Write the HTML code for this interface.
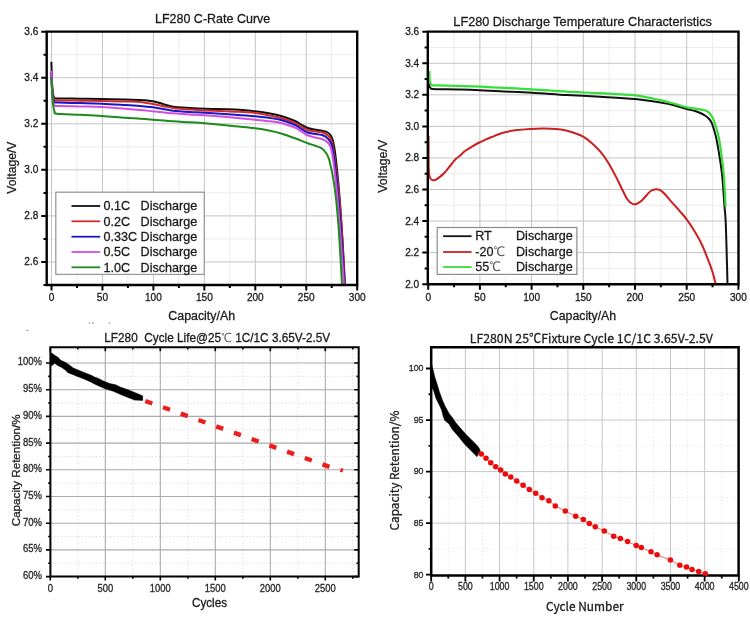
<!DOCTYPE html>
<html><head><meta charset="utf-8"><title>LF280 charts</title>
<style>html,body{margin:0;padding:0;background:#fff;}svg{display:block;}text{stroke:#1a1a1a;stroke-width:0.28px;}</style>
</head><body>
<svg width="750" height="621" viewBox="0 0 750 621" font-family="'Liberation Sans', Arial, sans-serif">
<rect width="750" height="621" fill="#fff"/>
<path d="M76.97 31.6V285M127.92 31.6V285M178.88 31.6V285M229.82 31.6V285M280.77 31.6V285M331.72 31.6V285M46.7 54.73H357.2M46.7 100.78H357.2M46.7 146.82H357.2M46.7 192.88H357.2M46.7 238.92H357.2" stroke="#ececec" stroke-width="1" fill="none"/>
<path d="M51.5 31.6V285M102.45 31.6V285M153.4 31.6V285M204.35 31.6V285M255.3 31.6V285M306.25 31.6V285M46.7 77.75H357.2M46.7 123.8H357.2M46.7 169.85H357.2M46.7 215.9H357.2M46.7 261.95H357.2" stroke="#c4c4c4" stroke-width="1" fill="none"/>
<path d="M51.4 61.7C51.48 64.75 51.63 74.62 51.9 80C52.17 85.38 52.57 91 53 94C53.43 97 53.67 97.27 54.5 98C55.33 98.73 53.75 98.28 58 98.4C62.25 98.52 72.67 98.6 80 98.7C87.33 98.8 94.5 98.85 102 99C109.5 99.15 118.67 99.43 125 99.6C131.33 99.77 135.33 99.72 140 100C144.67 100.28 149.17 100.63 153 101.3C156.83 101.97 159.67 103.1 163 104C166.33 104.9 168.5 106.03 173 106.7C177.5 107.37 184.67 107.67 190 108C195.33 108.33 197.5 108.47 205 108.7C212.5 108.93 226.67 108.97 235 109.4C243.33 109.83 249.17 110.62 255 111.3C260.83 111.98 265.5 112.67 270 113.5C274.5 114.33 277.83 115.05 282 116.3C286.17 117.55 291.83 119.63 295 121C298.17 122.37 299 123.38 301 124.5C303 125.62 304.83 126.87 307 127.7C309.17 128.53 311.5 129 314 129.5C316.5 130 319.92 130.32 322 130.7C324.08 131.08 325.17 131.17 326.5 131.8C327.83 132.43 328.92 132.97 330 134.5C331.08 136.03 332 136.75 333 141C334 145.25 334.87 150.17 336 160C337.13 169.83 338.72 186.67 339.8 200C340.88 213.33 341.63 225.83 342.5 240C343.37 254.17 344.58 277.5 345 285" stroke="#101010" stroke-width="2" fill="none" stroke-linejoin="round"/>
<path d="M51.4 72C51.48 74 51.63 80 51.9 84C52.17 88 52.57 93.33 53 96C53.43 98.67 53.67 99.27 54.5 100C55.33 100.73 53.75 100.28 58 100.4C62.25 100.52 72.67 100.6 80 100.7C87.33 100.8 94.5 100.87 102 101C109.5 101.13 118.67 101.33 125 101.5C131.33 101.67 135.33 101.58 140 102C144.67 102.42 149.17 103.3 153 104C156.83 104.7 159.67 105.53 163 106.2C166.33 106.87 168.5 107.43 173 108C177.5 108.57 184.67 109.2 190 109.6C195.33 110 197.5 110.05 205 110.4C212.5 110.75 226.67 111.27 235 111.7C243.33 112.13 249.17 112.37 255 113C260.83 113.63 265.5 114.62 270 115.5C274.5 116.38 277.83 117.05 282 118.3C286.17 119.55 291.83 121.63 295 123C298.17 124.37 299 125.38 301 126.5C303 127.62 304.83 128.9 307 129.7C309.17 130.5 311.5 130.87 314 131.3C316.5 131.73 319.62 131.57 322 132.3C324.38 133.03 326.63 134.08 328.3 135.7C329.97 137.32 330.88 137.95 332 142C333.12 146.05 333.75 150.33 335 160C336.25 169.67 338.28 186.67 339.5 200C340.72 213.33 341.42 225.83 342.3 240C343.18 254.17 344.38 277.5 344.8 285" stroke="#d42a2a" stroke-width="2" fill="none" stroke-linejoin="round"/>
<path d="M51.4 72.5C51.48 74.75 51.63 81.67 51.9 86C52.17 90.33 52.57 95.8 53 98.5C53.43 101.2 53.67 101.52 54.5 102.2C55.33 102.88 53.75 102.45 58 102.6C62.25 102.75 72.67 102.92 80 103.1C87.33 103.28 94.5 103.38 102 103.7C109.5 104.02 118.67 104.62 125 105C131.33 105.38 135.33 105.62 140 106C144.67 106.38 149.17 106.8 153 107.3C156.83 107.8 159.67 108.43 163 109C166.33 109.57 168.5 110.2 173 110.7C177.5 111.2 184.67 111.67 190 112C195.33 112.33 197.5 112.25 205 112.7C212.5 113.15 226.67 114.1 235 114.7C243.33 115.3 249.17 115.75 255 116.3C260.83 116.85 265.5 117.33 270 118C274.5 118.67 277.83 119.13 282 120.3C286.17 121.47 291.83 123.6 295 125C298.17 126.4 299 127.48 301 128.7C303 129.92 304.83 131.45 307 132.3C309.17 133.15 311.5 133.35 314 133.8C316.5 134.25 319.62 134.13 322 135C324.38 135.87 326.63 137.17 328.3 139C329.97 140.83 330.88 141.67 332 146C333.12 150.33 333.83 155.17 335 165C336.17 174.83 337.83 191.67 339 205C340.17 218.33 341.08 231.67 342 245C342.92 258.33 344.08 278.33 344.5 285" stroke="#1818c0" stroke-width="2" fill="none" stroke-linejoin="round"/>
<path d="M51.4 71C51.48 73.67 51.63 81.83 51.9 87C52.17 92.17 52.57 98.9 53 102C53.43 105.1 53.67 104.93 54.5 105.6C55.33 106.27 53.75 105.87 58 106C62.25 106.13 72.67 106.23 80 106.4C87.33 106.57 94.5 106.6 102 107C109.5 107.4 118.67 108.3 125 108.8C131.33 109.3 135.33 109.58 140 110C144.67 110.42 149.17 110.92 153 111.3C156.83 111.68 159.67 111.97 163 112.3C166.33 112.63 168.5 112.93 173 113.3C177.5 113.67 184.67 114.17 190 114.5C195.33 114.83 197.5 114.77 205 115.3C212.5 115.83 226.67 116.97 235 117.7C243.33 118.43 249.17 119.1 255 119.7C260.83 120.3 265.5 120.7 270 121.3C274.5 121.9 277.83 122.23 282 123.3C286.17 124.37 291.83 126.38 295 127.7C298.17 129.02 299 129.98 301 131.2C303 132.42 304.83 133.98 307 135C309.17 136.02 311.5 136.63 314 137.3C316.5 137.97 319.62 138.05 322 139C324.38 139.95 326.72 141.17 328.3 143C329.88 144.83 330.47 145.5 331.5 150C332.53 154.5 333.33 160 334.5 170C335.67 180 337.33 196.67 338.5 210C339.67 223.33 340.58 237.5 341.5 250C342.42 262.5 343.58 279.17 344 285" stroke="#d24ee0" stroke-width="2" fill="none" stroke-linejoin="round"/>
<path d="M51.4 77.7C51.5 79.75 51.73 85.62 52 90C52.27 94.38 52.58 100.42 53 104C53.42 107.58 53.83 109.88 54.5 111.5C55.17 113.12 52.75 113.15 57 113.7C61.25 114.25 72.5 114.42 80 114.8C87.5 115.18 94.5 115.5 102 116C109.5 116.5 118.67 117.35 125 117.8C131.33 118.25 135.33 118.38 140 118.7C144.67 119.02 147.5 119.27 153 119.7C158.5 120.13 166.83 120.87 173 121.3C179.17 121.73 184.67 121.97 190 122.3C195.33 122.63 197.5 122.63 205 123.3C212.5 123.97 226.67 125.47 235 126.3C243.33 127.13 249.17 127.57 255 128.3C260.83 129.03 265.5 129.8 270 130.7C274.5 131.6 277.83 132.43 282 133.7C286.17 134.97 290.83 136.75 295 138.3C299.17 139.85 303.67 141.77 307 143C310.33 144.23 312.55 144.82 315 145.7C317.45 146.58 320 147.25 321.7 148.3C323.4 149.35 323.95 150.08 325.2 152C326.45 153.92 327.65 154.07 329.2 159.8C330.75 165.53 332.95 175.33 334.5 186.4C336.05 197.47 337.25 209.83 338.5 226.2C339.75 242.57 341.42 274.87 342 284.6" stroke="#1e8a1e" stroke-width="2" fill="none" stroke-linejoin="round"/>
<rect x="55.8" y="192.2" width="148.5" height="82.2" fill="#fff" stroke="#9a9a9a" stroke-width="1.3"/>
<path d="M71.5 206H100.2" stroke="#101010" stroke-width="1.8"/>
<text transform="translate(103.4 210.4) scale(1 1.04)" font-size="12.6" text-anchor="start" fill="#1a1a1a" font-family="'Liberation Sans', Arial, sans-serif">0.1C</text>
<text transform="translate(140.6 210.4) scale(1 1.04)" font-size="12.6" text-anchor="start" fill="#1a1a1a" font-family="'Liberation Sans', Arial, sans-serif">Discharge</text>
<path d="M71.5 221.3H100.2" stroke="#d42a2a" stroke-width="1.8"/>
<text transform="translate(103.4 225.7) scale(1 1.04)" font-size="12.6" text-anchor="start" fill="#1a1a1a" font-family="'Liberation Sans', Arial, sans-serif">0.2C</text>
<text transform="translate(140.6 225.7) scale(1 1.04)" font-size="12.6" text-anchor="start" fill="#1a1a1a" font-family="'Liberation Sans', Arial, sans-serif">Discharge</text>
<path d="M71.5 236.7H100.2" stroke="#1818c0" stroke-width="1.8"/>
<text transform="translate(103.4 241.1) scale(1 1.04)" font-size="12.6" text-anchor="start" fill="#1a1a1a" font-family="'Liberation Sans', Arial, sans-serif">0.33C</text>
<text transform="translate(140.6 241.1) scale(1 1.04)" font-size="12.6" text-anchor="start" fill="#1a1a1a" font-family="'Liberation Sans', Arial, sans-serif">Discharge</text>
<path d="M71.5 252H100.2" stroke="#d24ee0" stroke-width="1.8"/>
<text transform="translate(103.4 256.4) scale(1 1.04)" font-size="12.6" text-anchor="start" fill="#1a1a1a" font-family="'Liberation Sans', Arial, sans-serif">0.5C</text>
<text transform="translate(140.6 256.4) scale(1 1.04)" font-size="12.6" text-anchor="start" fill="#1a1a1a" font-family="'Liberation Sans', Arial, sans-serif">Discharge</text>
<path d="M71.5 267.3H100.2" stroke="#1e8a1e" stroke-width="1.8"/>
<text transform="translate(103.4 271.7) scale(1 1.04)" font-size="12.6" text-anchor="start" fill="#1a1a1a" font-family="'Liberation Sans', Arial, sans-serif">1.0C</text>
<text transform="translate(140.6 271.7) scale(1 1.04)" font-size="12.6" text-anchor="start" fill="#1a1a1a" font-family="'Liberation Sans', Arial, sans-serif">Discharge</text>
<path d="M46.7 31.6H357.2V285H46.7Z" stroke="#000" stroke-width="2.4" fill="none"/>
<path d="M41.2 31.7H46.7M43.5 54.73H46.7M41.2 77.75H46.7M43.5 100.78H46.7M41.2 123.8H46.7M43.5 146.82H46.7M41.2 169.85H46.7M43.5 192.88H46.7M41.2 215.9H46.7M43.5 238.92H46.7M41.2 261.95H46.7M43.5 285H46.7M51.5 285V290.5M76.97 285V288M102.45 285V290.5M127.92 285V288M153.4 285V290.5M178.88 285V288M204.35 285V290.5M229.82 285V288M255.3 285V290.5M280.77 285V288M306.25 285V290.5M331.72 285V288M357.2 285V290.5" stroke="#000" stroke-width="2" fill="none"/>
<text transform="translate(38.4 34.8) scale(1 1.1)" font-size="10.1" text-anchor="end" fill="#1a1a1a" font-family="'Liberation Sans', Arial, sans-serif">3.6</text>
<text transform="translate(38.4 80.85) scale(1 1.1)" font-size="10.1" text-anchor="end" fill="#1a1a1a" font-family="'Liberation Sans', Arial, sans-serif">3.4</text>
<text transform="translate(38.4 126.9) scale(1 1.1)" font-size="10.1" text-anchor="end" fill="#1a1a1a" font-family="'Liberation Sans', Arial, sans-serif">3.2</text>
<text transform="translate(38.4 172.95) scale(1 1.1)" font-size="10.1" text-anchor="end" fill="#1a1a1a" font-family="'Liberation Sans', Arial, sans-serif">3.0</text>
<text transform="translate(38.4 219) scale(1 1.1)" font-size="10.1" text-anchor="end" fill="#1a1a1a" font-family="'Liberation Sans', Arial, sans-serif">2.8</text>
<text transform="translate(38.4 265.05) scale(1 1.1)" font-size="10.1" text-anchor="end" fill="#1a1a1a" font-family="'Liberation Sans', Arial, sans-serif">2.6</text>
<text transform="translate(51.5 301) scale(1 1.07)" font-size="10.1" text-anchor="middle" fill="#1a1a1a" font-family="'Liberation Sans', Arial, sans-serif">0</text>
<text transform="translate(102.45 301) scale(1 1.07)" font-size="10.1" text-anchor="middle" fill="#1a1a1a" font-family="'Liberation Sans', Arial, sans-serif">50</text>
<text transform="translate(153.4 301) scale(1 1.07)" font-size="10.1" text-anchor="middle" fill="#1a1a1a" font-family="'Liberation Sans', Arial, sans-serif">100</text>
<text transform="translate(204.35 301) scale(1 1.07)" font-size="10.1" text-anchor="middle" fill="#1a1a1a" font-family="'Liberation Sans', Arial, sans-serif">150</text>
<text transform="translate(255.3 301) scale(1 1.07)" font-size="10.1" text-anchor="middle" fill="#1a1a1a" font-family="'Liberation Sans', Arial, sans-serif">200</text>
<text transform="translate(306.25 301) scale(1 1.07)" font-size="10.1" text-anchor="middle" fill="#1a1a1a" font-family="'Liberation Sans', Arial, sans-serif">250</text>
<text transform="translate(357.2 301) scale(1 1.07)" font-size="10.1" text-anchor="middle" fill="#1a1a1a" font-family="'Liberation Sans', Arial, sans-serif">300</text>
<text transform="translate(212.6 22.6) scale(1 1.06)" font-size="12.5" text-anchor="middle" fill="#1a1a1a" font-family="'Liberation Sans', Arial, sans-serif">LF280 C-Rate Curve</text>
<text transform="translate(16.4 167.6) rotate(-90)" font-size="12.2" text-anchor="middle" fill="#1a1a1a" font-family="'Liberation Sans', Arial, sans-serif">Voltage/V</text>
<text transform="translate(201.7 320.3) scale(1 1.05)" font-size="12.4" text-anchor="middle" fill="#1a1a1a" font-family="'Liberation Sans', Arial, sans-serif">Capacity/Ah</text>
<path d="M454.05 31.6V284.3M505.75 31.6V284.3M557.45 31.6V284.3M609.15 31.6V284.3M660.85 31.6V284.3M712.55 31.6V284.3M427.8 47.48H738.5M427.8 79.04H738.5M427.8 110.6H738.5M427.8 142.16H738.5M427.8 173.72H738.5M427.8 205.28H738.5M427.8 236.84H738.5M427.8 268.4H738.5" stroke="#ececec" stroke-width="1" fill="none"/>
<path d="M479.9 31.6V284.3M531.6 31.6V284.3M583.3 31.6V284.3M635 31.6V284.3M686.7 31.6V284.3M427.8 63.26H738.5M427.8 94.82H738.5M427.8 126.38H738.5M427.8 157.94H738.5M427.8 189.5H738.5M427.8 221.06H738.5M427.8 252.62H738.5" stroke="#c4c4c4" stroke-width="1" fill="none"/>
<path d="M428.6 136C428.6 138.33 428.58 144.67 428.6 150C428.62 155.33 428.58 163.75 428.7 168C428.82 172.25 428.95 173.67 429.3 175.5C429.65 177.33 430.18 178.22 430.8 179C431.42 179.78 432.22 180.07 433 180.2C433.78 180.33 434.5 180.23 435.5 179.8C436.5 179.37 437.58 178.68 439 177.6C440.42 176.52 442.17 175.23 444 173.3C445.83 171.37 448.08 168.33 450 166C451.92 163.67 453.75 161.1 455.5 159.3C457.25 157.5 458.92 156.58 460.5 155.2C462.08 153.82 463.08 152.43 465 151C466.92 149.57 469.78 147.93 472 146.6C474.22 145.27 476.13 144.13 478.3 143C480.47 141.87 482.77 140.8 485 139.8C487.23 138.8 489.53 137.88 491.7 137C493.87 136.12 495.78 135.28 498 134.5C500.22 133.72 502.17 133 505 132.3C507.83 131.6 510.83 130.87 515 130.3C519.17 129.73 525.17 129.2 530 128.9C534.83 128.6 539.67 128.48 544 128.5C548.33 128.52 552.5 128.7 556 129C559.5 129.3 561.92 129.63 565 130.3C568.08 130.97 571.47 131.93 574.5 133C577.53 134.07 580.3 135 583.2 136.7C586.1 138.4 589 140.67 591.9 143.2C594.8 145.73 597.95 148.77 600.6 151.9C603.25 155.03 605.38 158.13 607.8 162C610.22 165.87 612.92 170.98 615.1 175.1C617.28 179.22 618.97 182.83 620.9 186.7C622.83 190.57 625.13 195.65 626.7 198.3C628.27 200.95 629.1 201.6 630.3 202.6C631.5 203.6 632.75 204.13 633.9 204.3C635.05 204.47 635.83 204.28 637.2 203.6C638.57 202.92 640.1 202.07 642.1 200.2C644.1 198.33 647.42 194.1 649.2 192.4C650.98 190.7 651.62 190.53 652.8 190C653.98 189.47 655.02 189.15 656.3 189.2C657.58 189.25 659.05 189.47 660.5 190.3C661.95 191.13 663.35 192.48 665 194.2C666.65 195.92 668.02 197.87 670.4 200.6C672.78 203.33 676.53 207.4 679.3 210.6C682.07 213.8 684.35 216.2 687 219.8C689.65 223.4 692.65 227.92 695.2 232.2C697.75 236.48 699.93 240.33 702.3 245.5C704.67 250.67 707.62 258.53 709.4 263.2C711.18 267.87 711.97 270.07 713 273.5C714.03 276.93 715.17 282.08 715.6 283.8" stroke="#cc2020" stroke-width="2" fill="none" stroke-linejoin="round"/>
<path d="M429 83C429.05 83.5 429.05 85.17 429.3 86C429.55 86.83 429.97 87.5 430.5 88C431.03 88.5 430.92 88.8 432.5 89C434.08 89.2 435.42 89.12 440 89.2C444.58 89.28 453.33 89.33 460 89.5C466.67 89.67 473.33 89.9 480 90.2C486.67 90.5 491.33 90.88 500 91.3C508.67 91.72 520.88 92.08 532 92.7C543.12 93.32 555.37 94.33 566.7 95C578.03 95.67 588.62 96.03 600 96.7C611.38 97.37 624.93 98.02 635 99C645.07 99.98 653.73 101.52 660.4 102.6C667.07 103.68 670.57 104.42 675 105.5C679.43 106.58 683.67 108.18 687 109.1C690.33 110.02 692.6 110.27 695 111C697.4 111.73 699.73 112.75 701.4 113.5C703.07 114.25 703.78 114.67 705 115.5C706.22 116.33 707.62 117.33 708.7 118.5C709.78 119.67 710.7 120.92 711.5 122.5C712.3 124.08 712.75 125.58 713.5 128C714.25 130.42 715.18 133.38 716 137C716.82 140.62 717.4 143.55 718.4 149.7C719.4 155.85 721 164.63 722 173.9C723 183.17 723.8 197.62 724.4 205.3C725 212.98 725.23 212.55 725.6 220C725.97 227.45 726.28 239.28 726.6 250C726.92 260.72 727.35 278.58 727.5 284.3" stroke="#111" stroke-width="2" fill="none" stroke-linejoin="round"/>
<path d="M429.4 71C429.42 72 429.4 75.08 429.5 77C429.6 78.92 429.67 81.17 430 82.5C430.33 83.83 430.83 84.53 431.5 85C432.17 85.47 431.47 85.2 434 85.3C436.53 85.4 439.03 85.37 446.7 85.6C454.37 85.83 471.12 86.35 480 86.7C488.88 87.05 491.33 87.27 500 87.7C508.67 88.13 520.88 88.63 532 89.3C543.12 89.97 555.37 91.05 566.7 91.7C578.03 92.35 588.62 92.58 600 93.2C611.38 93.82 624.93 94.23 635 95.4C645.07 96.57 653.73 98.77 660.4 100.2C667.07 101.63 670.57 102.8 675 104C679.43 105.2 683.33 106.6 687 107.4C690.67 108.2 694.18 108.37 697 108.8C699.82 109.23 702.23 109.6 703.9 110C705.57 110.4 706 110.62 707 111.2C708 111.78 708.9 112.28 709.9 113.5C710.9 114.72 711.98 116.25 713 118.5C714.02 120.75 715.08 124.08 716 127C716.92 129.92 717.7 132.22 718.5 136C719.3 139.78 719.93 143.38 720.8 149.7C721.67 156.02 722.9 164.43 723.7 173.9C724.5 183.37 725.28 201.07 725.6 206.5" stroke="#36df36" stroke-width="2.2" fill="none" stroke-linejoin="round"/>
<rect x="437.2" y="227.5" width="139.7" height="46.9" fill="#fff" stroke="#8c8c8c" stroke-width="1.2"/>
<path d="M443.1 236.2H471.6" stroke="#111" stroke-width="1.8"/>
<text transform="translate(475.2 240.2) scale(1 1.04)" font-size="12.6" text-anchor="start" fill="#1a1a1a" font-family="'Liberation Sans', 'WenQuanYi Zen Hei', 'Noto Sans CJK SC', sans-serif">RT</text>
<text transform="translate(516 240.2) scale(1 1.04)" font-size="12.6" text-anchor="start" fill="#1a1a1a" font-family="'Liberation Sans', Arial, sans-serif">Discharge</text>
<path d="M443.1 252H471.6" stroke="#cc2020" stroke-width="1.8"/>
<text transform="translate(475.2 256) scale(1 1.04)" font-size="12.6" text-anchor="start" fill="#1a1a1a" font-family="'Liberation Sans', 'WenQuanYi Zen Hei', 'Noto Sans CJK SC', sans-serif">-20<tspan fill="#555" stroke="none">℃</tspan></text>
<text transform="translate(516 256) scale(1 1.04)" font-size="12.6" text-anchor="start" fill="#1a1a1a" font-family="'Liberation Sans', Arial, sans-serif">Discharge</text>
<path d="M443.1 267H471.6" stroke="#36df36" stroke-width="1.8"/>
<text transform="translate(475.2 271) scale(1 1.04)" font-size="12.6" text-anchor="start" fill="#1a1a1a" font-family="'Liberation Sans', 'WenQuanYi Zen Hei', 'Noto Sans CJK SC', sans-serif">55<tspan fill="#555" stroke="none">℃</tspan></text>
<text transform="translate(516 271) scale(1 1.04)" font-size="12.6" text-anchor="start" fill="#1a1a1a" font-family="'Liberation Sans', Arial, sans-serif">Discharge</text>
<path d="M427.8 31.6H738.5V284.3H427.8Z" stroke="#000" stroke-width="2.4" fill="none"/>
<path d="M422.3 31.7H427.8M424.6 47.48H427.8M422.3 63.26H427.8M424.6 79.04H427.8M422.3 94.82H427.8M424.6 110.6H427.8M422.3 126.38H427.8M424.6 142.16H427.8M422.3 157.94H427.8M424.6 173.72H427.8M422.3 189.5H427.8M424.6 205.28H427.8M422.3 221.06H427.8M424.6 236.84H427.8M422.3 252.62H427.8M424.6 268.4H427.8M422.3 284.18H427.8M428.2 284.3V289.8M454.05 284.3V287.3M479.9 284.3V289.8M505.75 284.3V287.3M531.6 284.3V289.8M557.45 284.3V287.3M583.3 284.3V289.8M609.15 284.3V287.3M635 284.3V289.8M660.85 284.3V287.3M686.7 284.3V289.8M712.55 284.3V287.3M738.4 284.3V289.8" stroke="#000" stroke-width="2" fill="none"/>
<text transform="translate(419.2 35.2) scale(1 1.1)" font-size="10.1" text-anchor="end" fill="#1a1a1a" font-family="'Liberation Sans', Arial, sans-serif">3.6</text>
<text transform="translate(419.2 66.76) scale(1 1.1)" font-size="10.1" text-anchor="end" fill="#1a1a1a" font-family="'Liberation Sans', Arial, sans-serif">3.4</text>
<text transform="translate(419.2 98.32) scale(1 1.1)" font-size="10.1" text-anchor="end" fill="#1a1a1a" font-family="'Liberation Sans', Arial, sans-serif">3.2</text>
<text transform="translate(419.2 129.88) scale(1 1.1)" font-size="10.1" text-anchor="end" fill="#1a1a1a" font-family="'Liberation Sans', Arial, sans-serif">3.0</text>
<text transform="translate(419.2 161.44) scale(1 1.1)" font-size="10.1" text-anchor="end" fill="#1a1a1a" font-family="'Liberation Sans', Arial, sans-serif">2.8</text>
<text transform="translate(419.2 193) scale(1 1.1)" font-size="10.1" text-anchor="end" fill="#1a1a1a" font-family="'Liberation Sans', Arial, sans-serif">2.6</text>
<text transform="translate(419.2 224.56) scale(1 1.1)" font-size="10.1" text-anchor="end" fill="#1a1a1a" font-family="'Liberation Sans', Arial, sans-serif">2.4</text>
<text transform="translate(419.2 256.12) scale(1 1.1)" font-size="10.1" text-anchor="end" fill="#1a1a1a" font-family="'Liberation Sans', Arial, sans-serif">2.2</text>
<text transform="translate(419.2 287.68) scale(1 1.1)" font-size="10.1" text-anchor="end" fill="#1a1a1a" font-family="'Liberation Sans', Arial, sans-serif">2.0</text>
<text transform="translate(428.2 301) scale(1 1.07)" font-size="10.1" text-anchor="middle" fill="#1a1a1a" font-family="'Liberation Sans', Arial, sans-serif">0</text>
<text transform="translate(479.9 301) scale(1 1.07)" font-size="10.1" text-anchor="middle" fill="#1a1a1a" font-family="'Liberation Sans', Arial, sans-serif">50</text>
<text transform="translate(531.6 301) scale(1 1.07)" font-size="10.1" text-anchor="middle" fill="#1a1a1a" font-family="'Liberation Sans', Arial, sans-serif">100</text>
<text transform="translate(583.3 301) scale(1 1.07)" font-size="10.1" text-anchor="middle" fill="#1a1a1a" font-family="'Liberation Sans', Arial, sans-serif">150</text>
<text transform="translate(635 301) scale(1 1.07)" font-size="10.1" text-anchor="middle" fill="#1a1a1a" font-family="'Liberation Sans', Arial, sans-serif">200</text>
<text transform="translate(686.7 301) scale(1 1.07)" font-size="10.1" text-anchor="middle" fill="#1a1a1a" font-family="'Liberation Sans', Arial, sans-serif">250</text>
<text transform="translate(738.4 301) scale(1 1.07)" font-size="10.1" text-anchor="middle" fill="#1a1a1a" font-family="'Liberation Sans', Arial, sans-serif">300</text>
<text transform="translate(582.6 25.7) scale(1 1.03)" font-size="12.7" text-anchor="middle" fill="#1a1a1a" font-family="'Liberation Sans', Arial, sans-serif">LF280 Discharge Temperature Characteristics</text>
<text transform="translate(386.8 166.3) rotate(-90)" font-size="12.4" text-anchor="middle" fill="#1a1a1a" font-family="'Liberation Sans', Arial, sans-serif">Voltage/V</text>
<text transform="translate(583 320.3) scale(1 1.05)" font-size="12.3" text-anchor="middle" fill="#1a1a1a" font-family="'Liberation Sans', Arial, sans-serif">Capacity/Ah</text>
<path d="M77.8 347.2V576.5M132.8 347.2V576.5M187.8 347.2V576.5M242.8 347.2V576.5M297.8 347.2V576.5M352.8 347.2V576.5M50.4 349.65H358.7M50.4 376.35H358.7M50.4 403.05H358.7M50.4 429.75H358.7M50.4 456.45H358.7M50.4 483.15H358.7M50.4 509.85H358.7M50.4 536.55H358.7M50.4 563.25H358.7" stroke="#d8d8d8" stroke-width="1" stroke-dasharray="1.2 2.3" fill="none"/>
<path d="M105.3 347.2V576.5M160.3 347.2V576.5M215.3 347.2V576.5M270.3 347.2V576.5M325.3 347.2V576.5M50.4 363H358.7M50.4 389.7H358.7M50.4 416.4H358.7M50.4 443.1H358.7M50.4 469.8H358.7M50.4 496.5H358.7M50.4 523.2H358.7M50.4 549.9H358.7" stroke="#ababab" stroke-width="1.1" fill="none"/>
<path d="M50.5 352.8L52.5 353.6L54.7 355.3L58 357.3L60.7 360.3L65.3 362.3L68 364L70.7 366L73.3 368L78 370L84.7 372.7L91.3 375.3L95 377.3L98.7 378.4L102.3 380.6L109.7 383.6L115.5 384.7L120.7 387.2L128 389.8L135.3 392.7L140.5 394.9L142.7 395.8L142.7 400.4L134.6 400.1L128 397.5L120.7 394.6L113.3 391.3L106 389.1L100.9 386.9L95 384.3L91.3 382.3L84.7 379.3L78 376.7L73.3 374.7L68 372.7L65.3 370L61.3 367.3L57.3 365.3L54.7 363.3L52.5 365.3L50.5 365.5Z" fill="#000" stroke="#000" stroke-width="0.5" stroke-linejoin="round"/>
<rect x="-3.7" y="-2.2" width="7.4" height="4.4" fill="#ee1c1c" transform="translate(148.8 402.2) rotate(19.69)"/>
<rect x="-3.7" y="-2.2" width="7.4" height="4.4" fill="#ee1c1c" transform="translate(166.52 408.54) rotate(19.69)"/>
<rect x="-3.7" y="-2.2" width="7.4" height="4.4" fill="#ee1c1c" transform="translate(184.24 414.88) rotate(19.69)"/>
<rect x="-3.7" y="-2.2" width="7.4" height="4.4" fill="#ee1c1c" transform="translate(201.96 421.22) rotate(19.69)"/>
<rect x="-3.7" y="-2.2" width="7.4" height="4.4" fill="#ee1c1c" transform="translate(219.68 427.56) rotate(19.69)"/>
<rect x="-3.7" y="-2.2" width="7.4" height="4.4" fill="#ee1c1c" transform="translate(237.4 433.9) rotate(19.69)"/>
<rect x="-3.7" y="-2.2" width="7.4" height="4.4" fill="#ee1c1c" transform="translate(255.12 440.24) rotate(19.69)"/>
<rect x="-3.7" y="-2.2" width="7.4" height="4.4" fill="#ee1c1c" transform="translate(272.84 446.58) rotate(19.69)"/>
<rect x="-3.7" y="-2.2" width="7.4" height="4.4" fill="#ee1c1c" transform="translate(290.56 452.92) rotate(19.69)"/>
<rect x="-3.7" y="-2.2" width="7.4" height="4.4" fill="#ee1c1c" transform="translate(308.28 459.26) rotate(19.69)"/>
<rect x="-3.7" y="-2.2" width="7.4" height="4.4" fill="#ee1c1c" transform="translate(326 465.6) rotate(19.69)"/>
<rect x="-1.3" y="-2.0" width="2.6" height="4.0" fill="#ee1c1c" transform="translate(341.7 470.2) rotate(19.69)"/>
<path d="M50.4 347.2H358.7V576.5H50.4Z" stroke="#000" stroke-width="2" fill="none"/>
<path d="M46 363H50.4M358.7 363H354.3M48.2 376.35H50.4M358.7 376.35H356.5M46 389.7H50.4M358.7 389.7H354.3M48.2 403.05H50.4M358.7 403.05H356.5M46 416.4H50.4M358.7 416.4H354.3M48.2 429.75H50.4M358.7 429.75H356.5M46 443.1H50.4M358.7 443.1H354.3M48.2 456.45H50.4M358.7 456.45H356.5M46 469.8H50.4M358.7 469.8H354.3M48.2 483.15H50.4M358.7 483.15H356.5M46 496.5H50.4M358.7 496.5H354.3M48.2 509.85H50.4M358.7 509.85H356.5M46 523.2H50.4M358.7 523.2H354.3M48.2 536.55H50.4M358.7 536.55H356.5M46 549.9H50.4M358.7 549.9H354.3M48.2 563.25H50.4M358.7 563.25H356.5M46 576.6H50.4M358.7 576.6H354.3M50.3 576.5V580.5M50.3 347.2V351.2M77.8 576.5V578.7M77.8 347.2V349.4M105.3 576.5V580.5M105.3 347.2V351.2M132.8 576.5V578.7M132.8 347.2V349.4M160.3 576.5V580.5M160.3 347.2V351.2M187.8 576.5V578.7M187.8 347.2V349.4M215.3 576.5V580.5M215.3 347.2V351.2M242.8 576.5V578.7M242.8 347.2V349.4M270.3 576.5V580.5M270.3 347.2V351.2M297.8 576.5V578.7M297.8 347.2V349.4M325.3 576.5V580.5M325.3 347.2V351.2M352.8 576.5V578.7M352.8 347.2V349.4" stroke="#000" stroke-width="1.6" fill="none"/>
<text transform="translate(42 365.4) scale(1 1.1)" font-size="9.5" text-anchor="end" fill="#333" font-family="'Liberation Sans', Arial, sans-serif">100%</text>
<text transform="translate(42 392.1) scale(1 1.1)" font-size="9.5" text-anchor="end" fill="#333" font-family="'Liberation Sans', Arial, sans-serif">95%</text>
<text transform="translate(42 418.8) scale(1 1.1)" font-size="9.5" text-anchor="end" fill="#333" font-family="'Liberation Sans', Arial, sans-serif">90%</text>
<text transform="translate(42 445.5) scale(1 1.1)" font-size="9.5" text-anchor="end" fill="#333" font-family="'Liberation Sans', Arial, sans-serif">85%</text>
<text transform="translate(42 472.2) scale(1 1.1)" font-size="9.5" text-anchor="end" fill="#333" font-family="'Liberation Sans', Arial, sans-serif">80%</text>
<text transform="translate(42 498.9) scale(1 1.1)" font-size="9.5" text-anchor="end" fill="#333" font-family="'Liberation Sans', Arial, sans-serif">75%</text>
<text transform="translate(42 525.6) scale(1 1.1)" font-size="9.5" text-anchor="end" fill="#333" font-family="'Liberation Sans', Arial, sans-serif">70%</text>
<text transform="translate(42 552.3) scale(1 1.1)" font-size="9.5" text-anchor="end" fill="#333" font-family="'Liberation Sans', Arial, sans-serif">65%</text>
<text transform="translate(42 579) scale(1 1.1)" font-size="9.5" text-anchor="end" fill="#333" font-family="'Liberation Sans', Arial, sans-serif">60%</text>
<text transform="translate(50.3 592) scale(1 1.13)" font-size="9.4" text-anchor="middle" fill="#333" font-family="'Liberation Sans', Arial, sans-serif">0</text>
<text transform="translate(105.3 592) scale(1 1.13)" font-size="9.4" text-anchor="middle" fill="#333" font-family="'Liberation Sans', Arial, sans-serif">500</text>
<text transform="translate(160.3 592) scale(1 1.13)" font-size="9.4" text-anchor="middle" fill="#333" font-family="'Liberation Sans', Arial, sans-serif">1000</text>
<text transform="translate(215.3 592) scale(1 1.13)" font-size="9.4" text-anchor="middle" fill="#333" font-family="'Liberation Sans', Arial, sans-serif">1500</text>
<text transform="translate(270.3 592) scale(1 1.13)" font-size="9.4" text-anchor="middle" fill="#333" font-family="'Liberation Sans', Arial, sans-serif">2000</text>
<text transform="translate(325.3 592) scale(1 1.13)" font-size="9.4" text-anchor="middle" fill="#333" font-family="'Liberation Sans', Arial, sans-serif">2500</text>
<text transform="translate(104.3 341.8) scale(1 1.07)" font-size="11.8" text-anchor="start" fill="#1a1a1a" font-family="'Liberation Sans', 'WenQuanYi Zen Hei', 'Noto Sans CJK SC', sans-serif">LF280&#160; Cycle Life@25<tspan fill="#666" stroke="none">℃</tspan> 1C/1C 3.65V-2.5V</text>
<text transform="translate(19.6 470.3) rotate(-90)" font-size="11.65" text-anchor="middle" fill="#1a1a1a" font-family="'Liberation Sans', Arial, sans-serif">Capacity Retention/%</text>
<text transform="translate(209.5 607) scale(1 1.04)" font-size="11.7" text-anchor="middle" fill="#1a1a1a" font-family="'Liberation Sans', Arial, sans-serif">Cycles</text>
<path d="M448.29 347.3V575.4M482.47 347.3V575.4M516.65 347.3V575.4M550.83 347.3V575.4M585.01 347.3V575.4M619.19 347.3V575.4M653.37 347.3V575.4M687.55 347.3V575.4M721.73 347.3V575.4M431.2 394.27H738.6M431.2 445.82H738.6M431.2 497.38H738.6M431.2 548.92H738.6" stroke="#e3e3e3" stroke-width="1" stroke-dasharray="1.2 2.5" fill="none"/>
<path d="M465.38 347.3V575.4M499.56 347.3V575.4M533.74 347.3V575.4M567.92 347.3V575.4M602.1 347.3V575.4M636.28 347.3V575.4M670.46 347.3V575.4M704.64 347.3V575.4M431.2 368.5H738.6M431.2 420.05H738.6M431.2 471.6H738.6M431.2 523.15H738.6" stroke="#c6c6c6" stroke-width="1" fill="none"/>
<path d="M481.3 454L486 458.3L490.7 462.7L495.7 466.7L500.7 470L505.3 474L510.7 477.1L516.7 481.1L523.1 485.3L529.3 489.6L535.7 493.3L542 497.7L548.9 500.7L555.3 506L565.3 511.1L575.7 516.3L583.3 519.6L589.3 523.6L595.3 526.7L604.3 531.1L613.7 536.3L620.4 538.4L627.6 541.6L636.2 545.6L641.3 547.6L651 551.7L657.1 554.8L670.4 560.1L679.8 565.2L686.5 567.1L692 569.5L698.7 571.6L705.3 573.7" stroke="#f04040" stroke-width="0.8" fill="none"/>
<path d="M431.4 363.2L433.1 370.1L434.8 376.9L437 383.7L439.3 391.5L442.6 400.6L445.5 407L447.2 410L448.9 413.2L452.1 417.2L455.3 422.1L460.1 427.7L465.8 434.2L472.2 440.6L477.8 446.2L480.3 450.3L477 456.7L470.6 450.3L464.2 443.8L458.5 436.6L452.1 429.3L448.9 423.7L444.8 420.5L443.2 416.4L441.6 410L439.3 405.1L435.9 398.3L433.6 390.4L431.4 387L430.8 375Z" fill="#000" stroke="#000" stroke-width="0.5" stroke-linejoin="round"/>
<path d="M431.2 347.3H738.6V575.4H431.2Z" stroke="#000" stroke-width="2.5" fill="none"/>
<g fill="#ee0a0a"><circle cx="481.3" cy="454" r="2.75"/><circle cx="486" cy="458.3" r="2.75"/><circle cx="490.7" cy="462.7" r="2.75"/><circle cx="495.7" cy="466.7" r="2.75"/><circle cx="500.7" cy="470" r="2.75"/><circle cx="505.3" cy="474" r="2.75"/><circle cx="510.7" cy="477.1" r="2.75"/><circle cx="516.7" cy="481.1" r="2.75"/><circle cx="523.1" cy="485.3" r="2.75"/><circle cx="529.3" cy="489.6" r="2.75"/><circle cx="535.7" cy="493.3" r="2.75"/><circle cx="542" cy="497.7" r="2.75"/><circle cx="548.9" cy="500.7" r="2.75"/><circle cx="555.3" cy="506" r="2.75"/><circle cx="565.3" cy="511.1" r="2.75"/><circle cx="575.7" cy="516.3" r="2.75"/><circle cx="583.3" cy="519.6" r="2.75"/><circle cx="589.3" cy="523.6" r="2.75"/><circle cx="595.3" cy="526.7" r="2.75"/><circle cx="604.3" cy="531.1" r="2.75"/><circle cx="613.7" cy="536.3" r="2.75"/><circle cx="620.4" cy="538.4" r="2.75"/><circle cx="627.6" cy="541.6" r="2.75"/><circle cx="636.2" cy="545.6" r="2.75"/><circle cx="641.3" cy="547.6" r="2.75"/><circle cx="651" cy="551.7" r="2.75"/><circle cx="657.1" cy="554.8" r="2.75"/><circle cx="670.4" cy="560.1" r="2.75"/><circle cx="679.8" cy="565.2" r="2.75"/><circle cx="686.5" cy="567.1" r="2.75"/><circle cx="692" cy="569.5" r="2.75"/><circle cx="698.7" cy="571.6" r="2.75"/><circle cx="705.3" cy="573.7" r="2.75"/></g>
<path d="M426 368.5H431.2M428.6 394.27H431.2M426 420.05H431.2M428.6 445.82H431.2M426 471.6H431.2M428.6 497.38H431.2M426 523.15H431.2M428.6 548.92H431.2M426 574.7H431.2M431.2 575.4V581.4M448.29 575.4V578.4M465.38 575.4V581.4M482.47 575.4V578.4M499.56 575.4V581.4M516.65 575.4V578.4M533.74 575.4V581.4M550.83 575.4V578.4M567.92 575.4V581.4M585.01 575.4V578.4M602.1 575.4V581.4M619.19 575.4V578.4M636.28 575.4V581.4M653.37 575.4V578.4M670.46 575.4V581.4M687.55 575.4V578.4M704.64 575.4V581.4M721.73 575.4V578.4M738.82 575.4V581.4" stroke="#000" stroke-width="1.8" fill="none"/>
<text transform="translate(423.5 371.3) scale(1 1.09)" font-size="8.8" text-anchor="end" fill="#333" font-family="'Liberation Sans', Arial, sans-serif">100</text>
<text transform="translate(423.5 422.85) scale(1 1.09)" font-size="8.8" text-anchor="end" fill="#333" font-family="'Liberation Sans', Arial, sans-serif">95</text>
<text transform="translate(423.5 474.4) scale(1 1.09)" font-size="8.8" text-anchor="end" fill="#333" font-family="'Liberation Sans', Arial, sans-serif">90</text>
<text transform="translate(423.5 525.95) scale(1 1.09)" font-size="8.8" text-anchor="end" fill="#333" font-family="'Liberation Sans', Arial, sans-serif">85</text>
<text transform="translate(423.5 577.5) scale(1 1.09)" font-size="8.8" text-anchor="end" fill="#333" font-family="'Liberation Sans', Arial, sans-serif">80</text>
<text transform="translate(431.2 590) scale(1 1.14)" font-size="8.85" text-anchor="middle" fill="#333" font-family="'Liberation Sans', Arial, sans-serif">0</text>
<text transform="translate(465.38 590) scale(1 1.14)" font-size="8.85" text-anchor="middle" fill="#333" font-family="'Liberation Sans', Arial, sans-serif">500</text>
<text transform="translate(499.56 590) scale(1 1.14)" font-size="8.85" text-anchor="middle" fill="#333" font-family="'Liberation Sans', Arial, sans-serif">1000</text>
<text transform="translate(533.74 590) scale(1 1.14)" font-size="8.85" text-anchor="middle" fill="#333" font-family="'Liberation Sans', Arial, sans-serif">1500</text>
<text transform="translate(567.92 590) scale(1 1.14)" font-size="8.85" text-anchor="middle" fill="#333" font-family="'Liberation Sans', Arial, sans-serif">2000</text>
<text transform="translate(602.1 590) scale(1 1.14)" font-size="8.85" text-anchor="middle" fill="#333" font-family="'Liberation Sans', Arial, sans-serif">2500</text>
<text transform="translate(636.28 590) scale(1 1.14)" font-size="8.85" text-anchor="middle" fill="#333" font-family="'Liberation Sans', Arial, sans-serif">3000</text>
<text transform="translate(670.46 590) scale(1 1.14)" font-size="8.85" text-anchor="middle" fill="#333" font-family="'Liberation Sans', Arial, sans-serif">3500</text>
<text transform="translate(704.64 590) scale(1 1.14)" font-size="8.85" text-anchor="middle" fill="#333" font-family="'Liberation Sans', Arial, sans-serif">4000</text>
<text transform="translate(738.82 590) scale(1 1.14)" font-size="8.85" text-anchor="middle" fill="#333" font-family="'Liberation Sans', Arial, sans-serif">4500</text>
<text transform="translate(591.3 342.8)" font-size="12.3" text-anchor="middle" fill="#222" font-family="'Noto Sans CJK SC', 'Liberation Sans', sans-serif">LF280N 25℃Fixture Cycle 1C/1C 3.65V-2.5V</text>
<text transform="translate(399 470.6) rotate(-90)" font-size="11.8" text-anchor="middle" fill="#222" font-family="'Noto Sans CJK SC', 'Liberation Sans', sans-serif">Capacity Retention/%</text>
<text transform="translate(584.8 610.6)" font-size="11.9" text-anchor="middle" fill="#222" font-family="'Noto Sans CJK SC', 'Liberation Sans', sans-serif">Cycle Number</text>
<path d="M26.4 330.4h2.1M88.8 323h1.6M92 323h2M108.5 323h1.9" stroke="#777" stroke-width="0.9"/>
</svg>
</body></html>
